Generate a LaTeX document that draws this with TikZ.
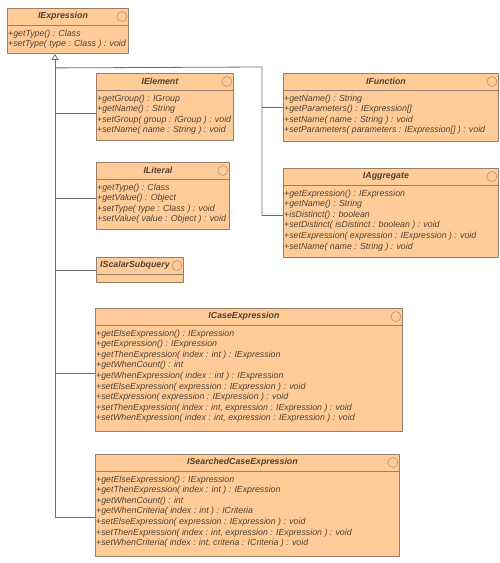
\documentclass[tikz,border=0pt]{standalone}
\usepackage{fontspec}
\setmainfont{Liberation Sans}
\usetikzlibrary{arrows.meta}
\definecolor{boxfill}{RGB}{255,204,153}
\definecolor{boxline}{RGB}{150,128,105}
\definecolor{txt}{RGB}{80,65,50}
\definecolor{treeline}{RGB}{110,110,110}
\tikzset{
	classbox/.style={draw=boxline, fill=boxfill, line width=0.9pt, anchor=north west, inner sep=0pt},
	ctitle/.style={font=\fontsize{8.8}{10}\selectfont\bfseries\itshape, text=txt, inner sep=0pt},
	cops/.style={font=\fontsize{8.8}{10.6}\selectfont\itshape, text=txt, align=left, anchor=north west, inner sep=0pt},
	tree/.style={draw=treeline, line width=0.8pt}
}
\begin{document}
\begin{tikzpicture}[line join = round, >=stealth, x = 1pt, y = -1pt]
	\useasboundingbox (0,0) rectangle (500,563);
	%Tiêu đề, vạch ngăn, vòng tròn và các phương thức của một lớp
	\def\lop#1#2#3{
		\draw[boxline, line width=0.9pt] ([yshift=-17pt]#1.north west) -- ([yshift=-17pt]#1.north east);
		\node[ctitle] at ([xshift=-5pt,yshift=-8.5pt]#1.north) {#2};
		\draw[boxline] ([xshift=-7pt,yshift=-8.5pt]#1.north east) circle (5pt);
		\node[cops] at ([xshift=1pt,yshift=-21.5pt]#1.north west) {#3};
	}
	%Các lớp
	\node[classbox, minimum width=121, minimum height=45] (expr) at (7,8) {};
	\lop{expr}{IExpression}{+getType() : Class\\+setType( type : Class ) : void}
	\node[classbox, minimum width=137, minimum height=67] (elem) at (96,73) {};
	\lop{elem}{IElement}{+getGroup() : IGroup\\+getName() : String\\+setGroup( group : IGroup ) : void\\+setName( name : String ) : void}
	\node[classbox, minimum width=215, minimum height=68] (func) at (283,73) {};
	\lop{func}{IFunction}{+getName() : String\\+getParameters() : IExpression[]\\+setName( name : String ) : void\\+setParameters( parameters : IExpression[] ) : void}
	\node[classbox, minimum width=133, minimum height=67] (lit) at (96,162) {};
	\lop{lit}{ILiteral}{+getType() : Class\\+getValue() : Object\\+setType( type : Class ) : void\\+setValue( value : Object ) : void}
	\node[classbox, minimum width=215, minimum height=89] (aggr) at (283,168) {};
	\lop{aggr}{IAggregate}{+getExpression() : IExpression\\+getName() : String\\+isDistinct() : boolean\\+setDistinct( isDistinct : boolean ) : void\\+setExpression( expression : IExpression ) : void\\+setName( name : String ) : void}
	\node[classbox, minimum width=87, minimum height=25] (scal) at (96,257) {};
	\lop{scal}{IScalarSubquery}{}
	\node[classbox, minimum width=307, minimum height=123] (case) at (95,308) {};
	\lop{case}{ICaseExpression}{+getElseExpression() : IExpression\\+getExpression() : IExpression\\+getThenExpression( index : int ) : IExpression\\+getWhenCount() : int\\+getWhenExpression( index : int ) : IExpression\\+setElseExpression( expression : IExpression ) : void\\+setExpression( expression : IExpression ) : void\\+setThenExpression( index : int, expression : IExpression ) : void\\+setWhenExpression( index : int, expression : IExpression ) : void}
	\node[classbox, minimum width=304, minimum height=102] (srch) at (95,454) {};
	\lop{srch}{ISearchedCaseExpression}{+getElseExpression() : IExpression\\+getThenExpression( index : int ) : IExpression\\+getWhenCount() : int\\+getWhenCriteria( index : int ) : ICriteria\\+setElseExpression( expression : IExpression ) : void\\+setThenExpression( index : int, expression : IExpression ) : void\\+setWhenCriteria( index : int, criteria : ICriteria ) : void}
	%Đường kế thừa
	\coordinate (tip) at ([xshift=48pt]expr.south west);
	\coordinate (fork) at ([yshift=-14pt]tip);
	\coordinate (bend) at (262,67);
	\draw[tree, {Triangle[open, width=7pt, length=6pt]}-] (tip) |- ([yshift=-12pt]srch.west);
	\draw[tree] (fork) -- (bend) |- ([yshift=-2.5pt]aggr.west);
	\draw[tree] (func.west) -- (func.west -| bend);
	\foreach \n/\s in {elem/-6.5, lit/-2.5, scal/0, case/-3.5}
	\draw[tree] ([yshift=\s pt]\n.west) -- ([yshift=\s pt]\n.west -| tip);
\end{tikzpicture}
\end{document}
